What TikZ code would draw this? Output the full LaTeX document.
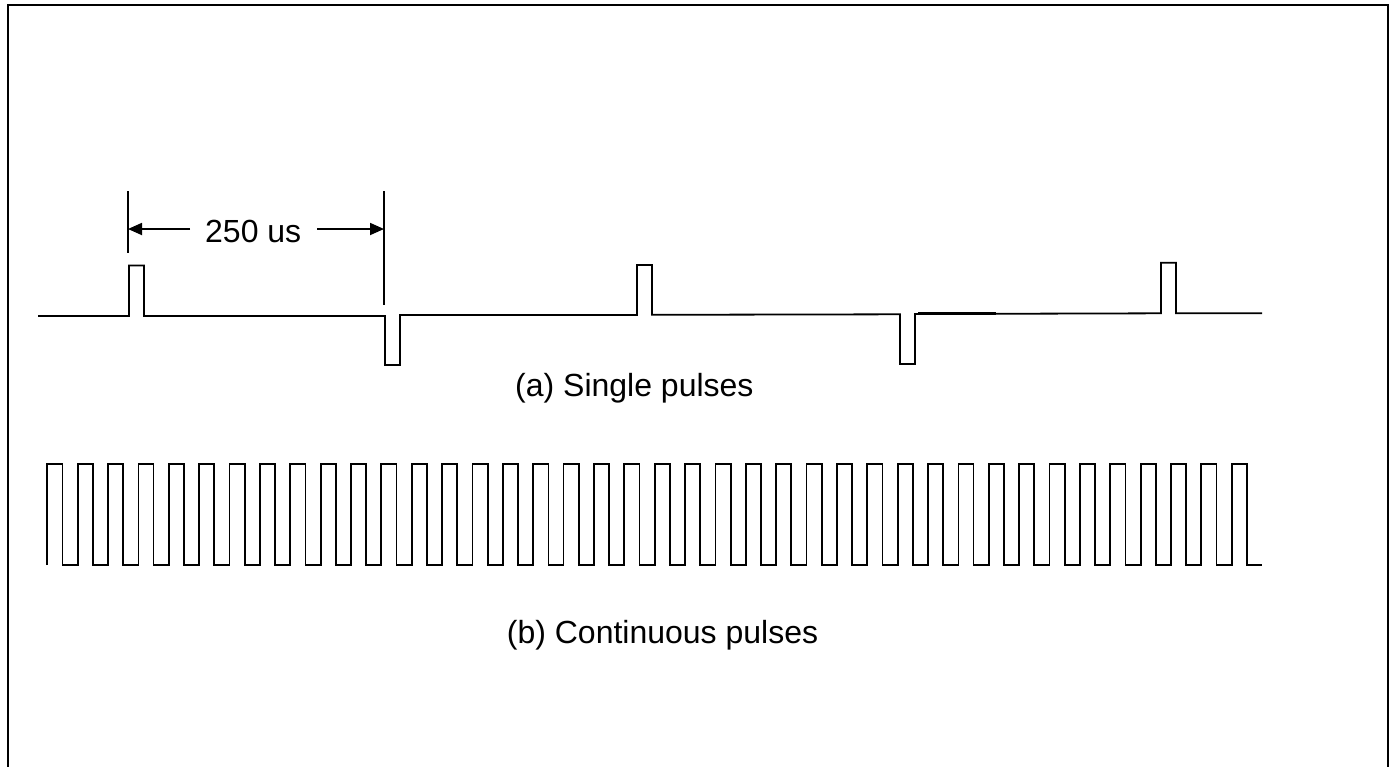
\documentclass[tikz,border=0pt]{standalone}
\usepackage{fontspec}
\setmainfont{Liberation Sans}
\usetikzlibrary{arrows.meta}
\begin{document}
\begin{tikzpicture}[x=1pt,y=-1pt,
  wave/.style={line width=1.8pt, line join=miter},
  dimline/.style={line width=1.8pt},
  dimarrow/.style={line width=1.8pt, -{Triangle[length=14pt,width=12pt]}},
  frame/.style={line width=2.6pt},
  lbl/.style={font=\fontsize{32}{38}\selectfont, inner sep=0pt}]
\useasboundingbox (0,0) rectangle (1394,766);
% frame (open at the bottom)
\draw[frame] (8,775) -- (8,5) -- (1388,5) -- (1388,775);

% single pulses
\draw[wave] (38,316) -- (129,316) -- (129,265.5) -- (144,265.5) -- (144,316)
  -- (385,316) -- (385,365) -- (400,365) -- (400,315)
  -- (637,315) -- (637,265) -- (652,265) -- (652,314.8)
  -- (900,314.3) -- (900,364) -- (915,364) -- (915,314)
  -- (1161,313.3) -- (1161,262.7) -- (1176,262.7) -- (1176,313.3) -- (1262,313.3);
\draw[line width=3pt] (918,313.6) -- (996,313.6);

% dimension
\coordinate (dLtop) at (128,191);
\coordinate (dLbot) at (128,253);
\coordinate (dRtop) at (384,191);
\coordinate (dRbot) at (384,305);
\draw[dimline] (dLtop) -- (dLbot);
\draw[dimline] (dRtop) -- (dRbot);
\coordinate (aL) at (128,229);
\coordinate (aR) at (384,229);
\node[lbl, anchor=base west] (t250) at (205,242.3) {250 us};
\draw[dimarrow] ([xshift=-15pt]t250.west |- aL) -- (aL);
\draw[dimarrow] ([xshift=16pt]t250.east |- aR) -- (aR);

\node[lbl, anchor=base west] (lblA) at (515,396.5) {(a) Single pulses};

% continuous pulses
\draw[wave] (47.3,565) \foreach \k in {0,...,39} { -- ++(0,-101) -- ++(15.185,0) -- ++(0,101) -- ++(15.185,0) };

\node[lbl, anchor=base west] (lblB) at (506.7,643) {(b) Continuous pulses};
\end{tikzpicture}
\end{document}
